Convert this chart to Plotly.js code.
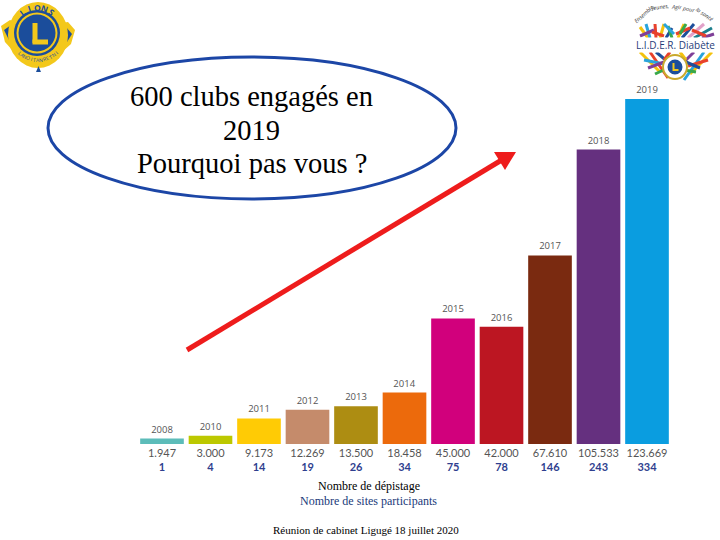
<!DOCTYPE html>
<html><head><meta charset="utf-8">
<script src="https://cdn.plot.ly/plotly-3.0.1.min.js"></script>
<style>html,body{margin:0;padding:0;background:#fff}</style></head>
<body><div id="c" style="width:720px;height:540px"></div>
<script>
const years=['2008','2010','2011','2012','2013','2014','2015','2016','2017','2018','2019'];
const depistages=[1947,3000,9173,12269,13500,18458,45000,42000,67610,105533,123669];
const depistageLabels=['1.947','3.000','9.173','12.269','13.500','18.458','45.000','42.000','67.610','105.533','123.669'];
const sites=[1,4,14,19,26,34,75,78,146,243,334];
const barColors=['#5cbcb9','#bcc800','#ffcb05','#c58b6b','#ad8d12','#ec6a0c','#d1007c','#bc1622','#7a2a10','#65307f','#0a9de0'];

const W=720,H=540;
const X=p=>p/W, Y=p=>1-p/444;
const P=(x,y)=>X(x).toFixed(4)+' '+Y(y).toFixed(4);
function poly(pts,close){return 'M'+pts.map(p=>P(p[0],p[1])).join(' L')+(close?' Z':'');}
function ell(cx,cy,rx,ry,fill,line,lw){return {type:'circle',xref:'paper',yref:'paper',x0:X(cx-rx),x1:X(cx+rx),y0:Y(cy+ry),y1:Y(cy-ry),fillcolor:fill,line:{color:line||fill,width:lw===undefined?0:lw}};}
function pth(pts,fill){return {type:'path',xref:'paper',yref:'paper',path:poly(pts,true),fillcolor:fill,line:{color:fill,width:0}};}
function seg(x0,y0,x1,y1,c,w){return {type:'line',xref:'paper',yref:'paper',x0:X(x0),x1:X(x1),y0:Y(y0),y1:Y(y1),line:{color:c,width:w}};}
function txt(t,x,y,size,color,fam,extra){return Object.assign({text:t,xref:'paper',yref:'paper',x:X(x),y:Y(y),xanchor:'center',yanchor:'middle',showarrow:false,font:{size:size,color:color,family:fam}},extra||{});}
const serif='"Liberation Serif",serif', sans='"Open Sans",sans-serif';

const navy='#1b4d9b',gold='#f3c81b';
const shapes=[
 ell(252,128,204,71,'rgba(0,0,0,0)','#1c46a6',3),
 seg(187,350,505,158,'#ee1c1c',5),
 pth([[494,152],[516,152],[505,170]],'#ee1c1c'),
 pth([[1,26],[10,20],[20,24],[24,48],[14,52],[5,42]],gold),
 pth([[75,30],[68,22],[56,24],[52,48],[62,52],[71,44]],gold),
 pth([[4,30],[11,25],[16,30],[17,42],[9,40]],navy),
 pth([[72,34],[66,27],[60,30],[59,42],[67,42]],navy),
 ell(38,35,30,33,gold),
 ell(37,33,23,23,navy),
 ell(37,33,20.5,20.5,gold),
 ell(37,33,18.5,18.5,navy),
 pth([[36,72],[41,72],[38.5,66]],navy),
 seg(35,23,35,43,gold,5), seg(32.5,42,48,42,gold,5)
];
const annos=[
 txt('600 clubs engagés en',252,96,28.5,'#000',serif),
 txt('2019',252,130,28.5,'#000',serif),
 txt('Pourquoi pas vous ?',252,163,28.5,'#000',serif),
 txt('Nombre de dépistage',369,486,12,'#000',serif),
 txt('Nombre de sites participants',369,501,12,'#1a3a7a',serif),
 txt('Réunion de cabinet Ligugé 18 juillet 2020',366,530,11,'#000',serif)
];
[...'LIONS'].forEach((ch,i)=>{const d=-36+18*i,a=d*Math.PI/180;annos.push(txt('<b>'+ch+'</b>',37+25.5*Math.sin(a),33-25.5*Math.cos(a),8.5,navy,sans,{textangle:d}));});
[...'INTERNATIONAL'].forEach((ch,i)=>{const d=44-7.3*i,a=d*Math.PI/180;annos.push(txt(ch,38+26*Math.sin(a),34+26*Math.cos(a),5,navy,sans,{textangle:-d}));});
const strokes=[
 [648,38,640,27,'#f4c20d'],[650,38,646,24,'#2aa4dc'],[656,38,655,24,'#e8412c'],[660,38,664,24,'#f4c20d'],[666,38,672,28,'#1d4f9c'],[672,38,668,26,'#38a84a'],[678,38,684,24,'#f4c20d'],[682,38,694,24,'#1d4f9c'],[688,38,704,24,'#e2a1c8'],[694,38,712,28,'#1c7f8c'],[702,38,714,34,'#7f3f98'],
 [640,36,654,30,'#7f3f98'],[652,32,664,36,'#e8412c'],[676,34,690,28,'#e8412c'],[692,30,706,36,'#e8412c'],[664,24,674,34,'#2aa4dc'],[686,24,680,34,'#38a84a'],
 [640,52,660,72,'#f4c20d'],[650,52,668,78,'#e8412c'],[644,60,664,64,'#2aa4dc'],[656,52,668,62,'#1d4f9c'],[648,68,664,62,'#7f3f98'],[655,74,668,68,'#38a84a'],
 [712,52,690,74,'#f4c20d'],[704,52,684,80,'#2aa4dc'],[708,60,688,66,'#e8412c'],[694,52,684,62,'#7f3f98'],[700,68,686,62,'#1d4f9c'],[696,72,684,70,'#38a84a'],[670,52,664,60,'#e8412c'],[680,52,686,60,'#f4c20d']
];
strokes.forEach(s=>shapes.push(seg(s[0],s[1],s[2],s[3],s[4],3)));
shapes.push(ell(675,67,12,12,'#fff','#c9a92c',2),ell(675,67,7.5,7.5,navy),seg(673.5,63,673.5,71,gold,2),seg(673,70,678.5,70,gold,2));
annos.push(txt('L.I.D.E.R. Diabète',675,45,10,'#1f3d7a',sans,{bgcolor:'#fff',borderpad:0}));
const arcTxt=['Ensemble,','Jeunes,','Agir','pour','la santé'];
[[644,14,-42],[660,7,-8],[676,7,3],[688,9,12],[704,14,35]].forEach((p,i)=>annos.push(txt('<i>'+arcTxt[i]+'</i>',p[0],p[1],5.5,'#333',sans,{textangle:p[2]})));

const pxPerUnit=345/123669;
const data=[{type:'bar',x:years,y:depistages,width:0.9,marker:{color:barColors},text:years,textposition:'outside',cliponaxis:false,
 textfont:{family:sans,size:9.5,color:'#555'},hoverinfo:'x+y'}];
const layout={width:W,height:H,margin:{l:0,r:0,t:0,b:96,pad:0},paper_bgcolor:'#fff',plot_bgcolor:'rgba(0,0,0,0)',showlegend:false,
 xaxis:{type:'category',categoryorder:'array',categoryarray:years,range:[-3.34,11.505],tickmode:'array',tickvals:years,
  ticktext:years.map((y,i)=>depistageLabels[i]+'<br><b><span style="color:#2f3f8f">'+sites[i]+'</span></b>'),
  tickfont:{family:'Lato, sans-serif',size:11,color:'#555'},ticklabelstandoff:1,ticks:'',showgrid:false,zeroline:false,showline:false,automargin:false},
 yaxis:{range:[0,444/pxPerUnit],visible:false,fixedrange:true},
 shapes,annotations:annos};
Plotly.newPlot('c',data,layout,{staticPlot:true,displayModeBar:false});
</script></body></html>
